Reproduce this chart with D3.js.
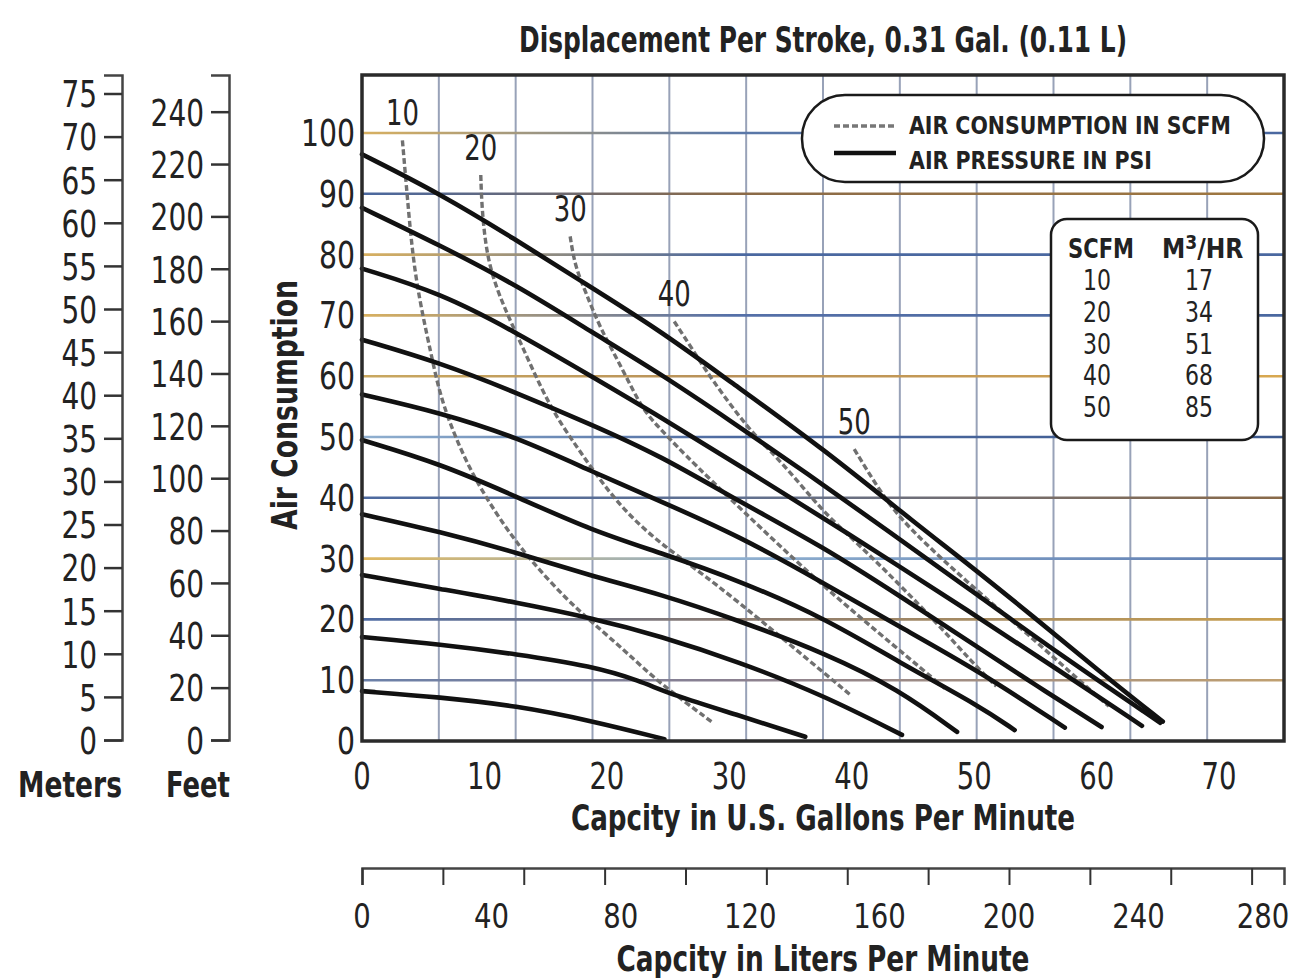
<!DOCTYPE html>
<html><head><meta charset="utf-8">
<script src="https://cdn.jsdelivr.net/npm/d3@7"></script>
<style>
html,body{margin:0;padding:0;background:#fff;}
svg{display:block;}
</style></head>
<body>
<svg id="chart" width="1298" height="978"></svg>
<script>
// ---------- DATA ----------
const galTicks = [0,10,20,30,40,50,60,70];
const psiTicks = [0,10,20,30,40,50,60,70,80,90,100];
const meterTicks = [0,5,10,15,20,25,30,35,40,45,50,55,60,65,70,75];
const feetTicks = [0,20,40,60,80,100,120,140,160,180,200,220,240];
const literLabels = [0,40,80,120,160,200,240,280];
const literTicks = [0,25,50,75,100,125,150,175,200,225,250,275];
const scfmValues = [10,20,30,40,50];
const m3hrValues = [17,34,51,68,85];

// air pressure curves (gal/min, head)
const p100 = [[0,96.5],[6.4,90],[12.6,82.4],[17.2,76.5],[24.3,67.6],[30,59.2],[37.6,48.2],[45.7,35],[48.7,30.4],[55,20.2],[60,11.8],[65.4,3.2]];
const p90  = [[0,87.7],[6.4,81.5],[12.6,75],[18.8,67.2],[24.3,60.5],[30,52.8],[36.5,43.8],[42.8,34.8],[50,24.4],[57,14.2],[65.2,3]];
const p80  = [[0,77.7],[6.4,73.7],[12.6,67.2],[18.8,59.9],[24.3,53.4],[30.8,45.3],[39.2,34.8],[50,20.8],[57,11.5],[63.7,2.5]];
const p70  = [[0,66],[6.4,62.2],[12.6,57.3],[18.8,52],[24.3,47],[30.8,39.4],[37.6,32],[43.8,24],[50.4,15.3],[55,9.2],[60.4,2.3]];
const p60  = [[0,57],[6.4,54],[12.6,50],[18.8,44.3],[24.3,39.5],[30.8,33.7],[37.6,26.1],[43.8,18.9],[50.4,11.5],[57.4,2.2]];
const p50  = [[0,49.5],[6.4,45.6],[12.6,40.2],[18.8,34.6],[24.3,31],[30.8,26.4],[38,20],[43.8,13],[50.4,5.8],[53.3,1.8]];
const p40  = [[0,37.3],[6.4,34.4],[12.6,31],[18.8,27.1],[24.3,24.2],[30.8,19.8],[38,14.3],[43.8,8.5],[48.6,1.5]];
const p30  = [[0,27.3],[6.4,25],[12.6,22.8],[18.8,20.2],[24.3,17.3],[30.8,13],[37.6,7.6],[44.1,1]];
const p20  = [[0,17.1],[6.4,15.9],[12.6,14.3],[18.8,12.3],[22.7,9.9],[25.3,7.6],[30.8,4.2],[36.2,0.7]];
const p10  = [[0,8.2],[6.4,7.2],[12.6,5.8],[18.8,3.3],[24.7,0.3]];

// air consumption curves (SCFM)
const scfm10 = [[3.3,98.8],[3.7,89.5],[4.3,76],[5.7,63.2],[6.5,55.5],[8.8,44.2],[11.8,34.8],[13.9,29.4],[16.7,23.3],[18.8,19.5],[21.6,14.6],[24.3,9.5],[28.6,3.1]];
const scfm20 = [[9.7,93.1],[9.8,86.9],[10.3,78],[11.8,70.4],[13.1,64.9],[15.3,55],[17.5,48.5],[19.4,43],[21.6,37.5],[24.3,32.6],[27,28.7],[30.8,22.8],[35.1,15.6],[40,7.4]];
const scfm30 = [[17,83],[17.4,78],[18.3,73.7],[19.4,68.1],[21.3,61.1],[22.9,54.5],[24.3,51.5],[25.9,48],[31,38],[37.6,25.5],[43.8,15.1],[47.7,8.5]];
const scfm40 = [[25.5,69],[27,64.4],[28.4,59.9],[31.6,51.2],[33.3,47.9],[35.7,42.5],[37.9,37.2],[41,31.5],[44,25.5],[47,19.3],[49.8,13],[51.8,9]];
const scfm50 = [[40.2,48],[42.2,41.4],[43.8,37],[46,32.5],[48.7,27.5],[51.5,22.5],[54.2,17.9],[58,11],[61,5.7]];

const pressureCurves = [p100,p90,p80,p70,p60,p50,p40,p30,p20,p10];
const airCurves = [scfm10,scfm20,scfm30,scfm40,scfm50];

// ---------- STYLE ----------
const FONT = "'Liberation Sans Narrow','DejaVu Sans Condensed','Roboto Condensed','Arial Narrow',sans-serif";
const INK = "#222";
const gridColors = {
  10:['#6b80a8','#8a8090','#c0a070'],
  20:['#4f6ca4','#8a7a70','#c9a050'],
  30:['#e0b860','#8fb0d0','#5d7bb0'],
  40:['#4d6aa0','#607090','#8a6a48'],
  50:['#90b0d0','#4d6aa0','#3d5a90'],
  60:['#c9a860','#b89058','#d8a850'],
  70:['#d8b060','#5570a8','#4a68a0'],
  80:['#d8b060','#4a68a0','#4a68a0'],
  90:['#4a68a0','#8a6a48','#a07840'],
  100:['#d8b060','#5a78a8','#4a68a0']
};
const narrow = (sel, perChar) => sel
  .attr("textLength", function(){ return this.textContent.length*perChar; })
  .attr("lengthAdjust","spacingAndGlyphs");

const svg = d3.select("#chart");
const L = 362, R = 1284, T = 75, B = 741;
const xMax = 75.3;
const x = d3.scaleLinear().domain([0,xMax]).range([L,R]);
const y = d3.scaleLinear().domain([0,100]).range([B,133]);

// gradients for horizontal gridlines
const defs = svg.append("defs");
psiTicks.filter(v=>v>0).forEach(v=>{
  const g = defs.append("linearGradient").attr("id","g"+v)
    .attr("gradientUnits","userSpaceOnUse").attr("x1",L).attr("x2",R).attr("y1",0).attr("y2",0);
  const c = gridColors[v];
  g.append("stop").attr("offset","0%").attr("stop-color",c[0]);
  g.append("stop").attr("offset","40%").attr("stop-color",c[1]);
  g.append("stop").attr("offset","100%").attr("stop-color",c[2]);
});

// vertical gridlines (12 equal columns)
const vGrid = d3.range(1,12).map(i=>xMax*i/12);
svg.append("g").selectAll("line").data(vGrid).join("line")
  .attr("x1",d=>x(d)).attr("x2",d=>x(d)).attr("y1",T).attr("y2",B)
  .attr("stroke","#98a2b8").attr("stroke-width",2);

// horizontal gridlines
svg.append("g").selectAll("line").data(psiTicks.filter(v=>v>0)).join("line")
  .attr("x1",L).attr("x2",R).attr("y1",d=>y(d)).attr("y2",d=>y(d))
  .attr("stroke",d=>"url(#g"+d+")").attr("stroke-width",2.6);

// legend (pill)
const leg = svg.append("g");
leg.append("rect").attr("x",802).attr("y",95).attr("width",462).attr("height",87)
  .attr("rx",43).attr("ry",43).attr("fill","#fff").attr("stroke","#1a1a1a").attr("stroke-width",2.5);
leg.append("line").attr("x1",834).attr("x2",896).attr("y1",126).attr("y2",126)
  .attr("stroke","#777").attr("stroke-width",3.5).attr("stroke-dasharray","6,3");
leg.append("line").attr("x1",834).attr("x2",896).attr("y1",153).attr("y2",153)
  .attr("stroke","#111").attr("stroke-width",4.6);
leg.append("text").attr("x",909).attr("y",134).attr("font-family",FONT).attr("font-weight","bold")
  .attr("font-size",25).attr("fill",INK).attr("textLength",322).attr("lengthAdjust","spacingAndGlyphs")
  .text("AIR CONSUMPTION IN SCFM");
leg.append("text").attr("x",909).attr("y",169).attr("font-family",FONT).attr("font-weight","bold")
  .attr("font-size",25).attr("fill",INK).attr("textLength",243).attr("lengthAdjust","spacingAndGlyphs")
  .text("AIR PRESSURE IN PSI");

// conversion table
const tb = svg.append("g");
tb.append("rect").attr("x",1051).attr("y",219).attr("width",207).attr("height",221)
  .attr("rx",16).attr("ry",16).attr("fill","#fff").attr("stroke","#1a1a1a").attr("stroke-width",2.5);
tb.append("text").attr("x",1068).attr("y",258).attr("font-family",FONT).attr("font-weight","bold")
  .attr("font-size",26).attr("fill",INK).attr("textLength",66).attr("lengthAdjust","spacingAndGlyphs").text("SCFM");
const mh = tb.append("text").attr("x",1162).attr("y",258).attr("font-family",FONT).attr("font-weight","bold")
  .attr("font-size",26).attr("fill",INK);
mh.append("tspan").text("M");
mh.append("tspan").attr("dy",-9).attr("font-size",19).text("3");
mh.append("tspan").attr("dy",9).text("/HR");
tb.selectAll("text.sc").data(scfmValues).join("text").attr("class","sc")
  .attr("x",1097).attr("y",(d,i)=>290+i*31.8).attr("text-anchor","middle")
  .attr("font-family",FONT).attr("font-size",28).attr("fill",INK).text(d=>d).call(narrow,14);
tb.selectAll("text.m3").data(m3hrValues).join("text").attr("class","m3")
  .attr("x",1199).attr("y",(d,i)=>290+i*31.8).attr("text-anchor","middle")
  .attr("font-family",FONT).attr("font-size",28).attr("fill",INK).text(d=>d).call(narrow,14);

// curves
const line = d3.line().x(d=>x(d[0])).y(d=>y(d[1])).curve(d3.curveBasis);
svg.append("g").selectAll("path").data(airCurves).join("path")
  .attr("d",line).attr("fill","none").attr("stroke","#707070")
  .attr("stroke-width",3.4).attr("stroke-dasharray","6,3");
svg.append("g").selectAll("path").data(pressureCurves).join("path")
  .attr("d",line).attr("fill","none").attr("stroke","#111")
  .attr("stroke-width",4.6).attr("stroke-linecap","round");

// air-consumption curve labels
svg.append("g").selectAll("text").data(airCurves).join("text")
  .attr("x",d=>x(d[0][0])).attr("y",d=>y(d[0][1])-28+13)
  .attr("text-anchor","middle").attr("font-family",FONT).attr("font-size",36).attr("fill",INK)
  .text((d,i)=>scfmValues[i]).call(narrow,16.5);

// frame
svg.append("rect").attr("x",L).attr("y",T).attr("width",R-L).attr("height",B-T)
  .attr("fill","none").attr("stroke","#2a2a2a").attr("stroke-width",3.5);

// main y labels
svg.append("g").selectAll("text").data(psiTicks).join("text")
  .attr("x",355).attr("y",d=>y(d)+13).attr("text-anchor","end")
  .attr("font-family",FONT).attr("font-size",37).attr("fill",INK).text(d=>d).call(narrow,18);
// x labels (gallons)
svg.append("g").selectAll("text").data(galTicks).join("text")
  .attr("x",d=>x(d)).attr("y",789).attr("text-anchor","middle")
  .attr("font-family",FONT).attr("font-size",37).attr("fill",INK).text(d=>d).call(narrow,17.5);

// left axes: meters & feet
const mScale = d3.scaleLinear().domain([0,(740-75)/8.62]).range([740,75]);
const fScale = d3.scaleLinear().domain([0,(740-75)/2.618]).range([740,75]);
function styleAxis(g){
  g.select(".domain").attr("stroke","#444").attr("stroke-width",2.5);
  g.selectAll(".tick line").attr("stroke","#333").attr("stroke-width",2.5);
  g.selectAll(".tick text").attr("font-family",FONT).attr("font-size",37).attr("fill",INK)
    .attr("dy","0.36em").call(narrow,17.8);
}
svg.append("g").attr("transform","translate(122,0)")
  .call(d3.axisLeft(mScale).tickValues(meterTicks).tickSize(18).tickSizeOuter(18).tickPadding(7).tickFormat(d3.format("d")))
  .call(styleAxis);
svg.append("g").attr("transform","translate(229,0)")
  .call(d3.axisLeft(fScale).tickValues(feetTicks).tickSize(18).tickSizeOuter(18).tickPadding(7).tickFormat(d3.format("d")))
  .call(styleAxis);
svg.append("text").attr("x",70).attr("y",797).attr("text-anchor","middle").attr("font-family",FONT)
  .attr("font-weight","bold").attr("font-size",35).attr("fill",INK)
  .attr("textLength",104).attr("lengthAdjust","spacingAndGlyphs").text("Meters");
svg.append("text").attr("x",198).attr("y",797).attr("text-anchor","middle").attr("font-family",FONT)
  .attr("font-weight","bold").attr("font-size",35).attr("fill",INK)
  .attr("textLength",64).attr("lengthAdjust","spacingAndGlyphs").text("Feet");

// liters axis
const lScale = d3.scaleLinear().domain([0,xMax*3.785]).range([L,R]);
svg.append("g").attr("transform","translate(0,868)")
  .call(d3.axisBottom(lScale).tickValues(literTicks).tickSize(17).tickSizeOuter(17).tickFormat(""))
  .call(g=>{g.select(".domain").attr("stroke","#444").attr("stroke-width",2.5);
            g.selectAll(".tick line").attr("stroke","#333").attr("stroke-width",2);});
svg.append("g").selectAll("text").data(literLabels).join("text")
  .attr("x",d=>Math.min(lScale(d),1263)).attr("y",928).attr("text-anchor","middle")
  .attr("font-family",FONT).attr("font-size",34).attr("fill",INK).text(d=>d).call(narrow,17.5);

// titles
svg.append("text").attr("x",823).attr("y",52).attr("text-anchor","middle").attr("font-family",FONT)
  .attr("font-weight","bold").attr("font-size",35).attr("fill",INK)
  .attr("textLength",608).attr("lengthAdjust","spacingAndGlyphs")
  .text("Displacement Per Stroke, 0.31 Gal. (0.11 L)");
svg.append("text").attr("x",823).attr("y",830).attr("text-anchor","middle").attr("font-family",FONT)
  .attr("font-weight","bold").attr("font-size",36).attr("fill",INK)
  .attr("textLength",504).attr("lengthAdjust","spacingAndGlyphs")
  .text("Capcity in U.S. Gallons Per Minute");
svg.append("text").attr("x",823).attr("y",971).attr("text-anchor","middle").attr("font-family",FONT)
  .attr("font-weight","bold").attr("font-size",36).attr("fill",INK)
  .attr("textLength",413).attr("lengthAdjust","spacingAndGlyphs")
  .text("Capcity in Liters Per Minute");
svg.append("text").attr("transform","translate(297,405) rotate(-90)").attr("text-anchor","middle")
  .attr("font-family",FONT).attr("font-weight","bold").attr("font-size",35).attr("fill",INK)
  .attr("textLength",250).attr("lengthAdjust","spacingAndGlyphs")
  .text("Air Consumption");
</script>
</body></html>
